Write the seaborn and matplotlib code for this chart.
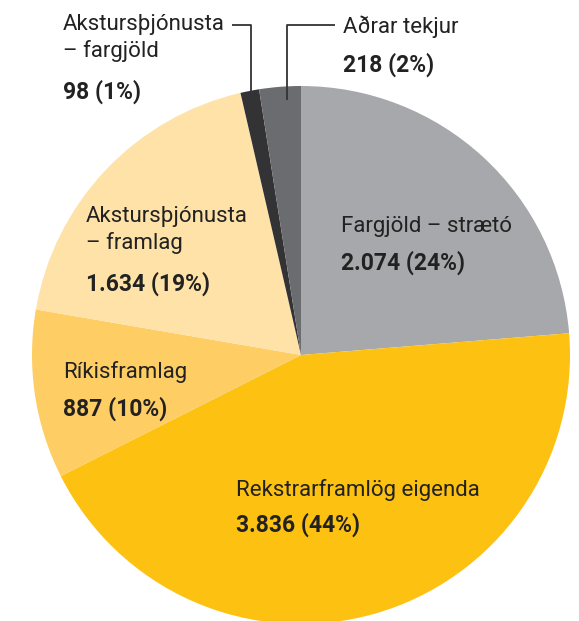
import numpy as np
import matplotlib
matplotlib.use("Agg")
import matplotlib.pyplot as plt
import seaborn as sns

# data (clockwise from 12 o'clock)
labels = ["Fargjöld – strætó", "Rekstrarframlög eigenda", "Ríkisframlag",
          "Akstursþjónusta\n– framlag", "Akstursþjónusta\n– fargjöld", "Aðrar tekjur"]
values = [2074, 3836, 887, 1634, 98, 218]
value_text = ["2.074", "3.836", "887", "1.634", "98", "218"]
colors = ["#a7a8ab", "#fdc112", "#fecd63", "#fee2a7", "#333335", "#6b6c70"]

sns.set_theme(style="white")
plt.rcParams["font.family"] = ["Roboto", "DejaVu Sans"]

fig = plt.figure(figsize=(5.79, 6.21), dpi=100)
r_px = 269
cx, cy = 301, 355
ax = fig.add_axes([(cx - r_px) / 579, (621 - cy - r_px) / 621,
                   2 * r_px / 579, 2 * r_px / 621])

wedges, _ = ax.pie(values, colors=colors, startangle=90, counterclock=False,
                   radius=1, wedgeprops=dict(linewidth=0))
for w in wedges:
    w.set_clip_on(False)
ax.set_xlim(-1, 1)
ax.set_ylim(-1, 1)
ax.set_aspect("equal")
ax.axis("off")


def to_d(px, py):
    return (px - cx) / r_px, (cy - py) / r_px


# label anchors (pixel position of the first line's top-left, converted)
label_px = [(341, 216), (236, 479), (63, 361), (86, 206), (63, 14), (343, 15)]
value_px = [(341, 251), (236, 513), (63, 397), (86, 272), (63, 80), (343, 53)]

total = sum(values)
for i, (lab, v, vt) in enumerate(zip(labels, values, value_text)):
    pct = round(v / total * 100)
    ax.text(*to_d(*label_px[i]), lab, ha="left", va="top", fontsize=16,
            color="#222222", linespacing=1.32)
    ax.text(*to_d(*value_px[i]), f"{vt} ({pct}%)", ha="left", va="top",
            fontsize=16.5, fontweight="bold", color="#222222")

# leader lines for the two small slices
for pts in ([(232, 25), (251, 25), (251, 102)], [(335, 25), (287, 25), (287, 100)]):
    xs, ys = zip(*[to_d(*p) for p in pts])
    ax.plot(xs, ys, color="#333333", lw=1.3, clip_on=False, solid_capstyle="butt")

fig.savefig("out.png", dpi=100)
